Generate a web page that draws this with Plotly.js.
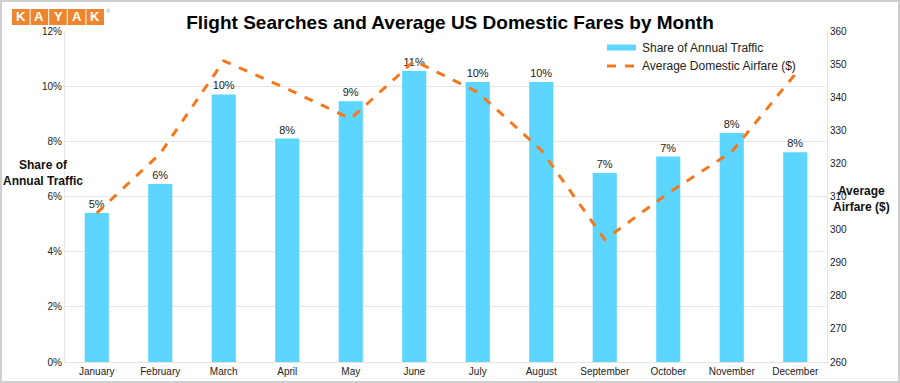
<!DOCTYPE html>
<html>
<head>
<meta charset="utf-8">
<script src="https://cdn.plot.ly/plotly-3.0.1.min.js"></script>
<style>
  html, body { margin: 0; padding: 0; background: #fff; }
  #wrap { position: relative; width: 900px; height: 383px; }
  #chart { width: 900px; height: 383px; }
  #frame { position: absolute; left: 0; top: 0; width: 896px; height: 379px; border: 2px solid #cfcfcf; pointer-events: none; }
</style>
</head>
<body>
<div id="wrap"><div id="chart"></div><div id="frame"></div></div>
<script>
const months = ["January","February","March","April","May","June","July","August","September","October","November","December"];
const trafficShare = [5.4, 6.45, 9.7, 8.1, 9.45, 10.55, 10.15, 10.15, 6.85, 7.45, 8.3, 7.6];
const avgFare = [305, 323, 351, 342.5, 333.5, 351, 341.5, 324, 297, 311, 323.5, 347];
const shareTicks = [0, 2, 4, 6, 8, 10, 12];
const fareTicks = [260, 270, 280, 290, 300, 310, 320, 330, 340, 350, 360];
const logoLetters = ["K","A","Y","A","K"];
const seriesNames = ["Share of Annual Traffic", "Average Domestic Airfare ($)"];

const L = 65, R = 827, T = 31, B = 362;
const px = x => (x - L) / (R - L);
const py = y => (B - y) / (B - T);

const FONT = "Arial, 'Liberation Sans', sans-serif";
const BAR_COLOR = "#5CD6FF", LINE_COLOR = "#F5781E";

const traces = [
  {
    type: "bar", x: months, y: trafficShare, name: seriesNames[0],
    marker: { color: BAR_COLOR },
    texttemplate: "%{y:.0f}%", textposition: "outside", cliponaxis: false,
    textfont: { family: FONT, size: 11, color: "#222" }
  },
  {
    type: "scatter", mode: "lines", x: months, y: avgFare, yaxis: "y2",
    name: seriesNames[1],
    line: { color: LINE_COLOR, width: 3, dash: "dash" }
  }
];

const shapes = [];
const annotations = [];
// Kayak logo
const lx0 = 12, lw = 18.6, ly0 = 9, ly1 = 25;
logoLetters.forEach((ch, i) => {
  const a = lx0 + i * lw, b = a + lw - 1;
  shapes.push({ type: "rect", xref: "paper", yref: "paper",
    x0: px(a), x1: px(b), y0: py(ly1), y1: py(ly0),
    fillcolor: "#EE8630", line: { width: 0 }, layer: "above" });
  annotations.push({ xref: "paper", yref: "paper", x: px((a + b) / 2), y: py((ly0 + ly1) / 2),
    text: "<b>" + ch + "</b>", showarrow: false, xanchor: "center", yanchor: "middle",
    font: { family: FONT, size: 13, color: "#fff" } });
});
annotations.push({ xref: "paper", yref: "paper", x: px(108), y: py(11), text: "®", showarrow: false,
  font: { family: FONT, size: 6, color: "#999" }, xanchor: "center", yanchor: "middle" });
// custom legend
shapes.push({ type: "rect", xref: "paper", yref: "paper", x0: px(607), x1: px(636), y0: py(50.5), y1: py(44.5),
  fillcolor: BAR_COLOR, line: { width: 0 } });
shapes.push({ type: "line", xref: "paper", yref: "paper", x0: px(607), x1: px(636), y0: py(66), y1: py(66),
  line: { color: LINE_COLOR, width: 3, dash: "dash" } });
annotations.push({ xref: "paper", yref: "paper", x: px(640), y: py(48), text: seriesNames[0],
  showarrow: false, xanchor: "left", yanchor: "middle", font: { family: FONT, size: 12, color: "#222" } });
annotations.push({ xref: "paper", yref: "paper", x: px(640), y: py(66), text: seriesNames[1],
  showarrow: false, xanchor: "left", yanchor: "middle", font: { family: FONT, size: 12, color: "#222" } });
// axis titles
annotations.push({ xref: "paper", yref: "paper", x: px(43), y: py(173),
  text: "<b>Share of<br>Annual Traffic</b>", showarrow: false, xanchor: "center", yanchor: "middle",
  font: { family: FONT, size: 12, color: "#111" } });
annotations.push({ xref: "paper", yref: "paper", x: px(861), y: py(199),
  text: "<b>Average<br>Airfare ($)</b>", showarrow: false, xanchor: "center", yanchor: "middle",
  font: { family: FONT, size: 12, color: "#111" } });

const layout = {
  width: 900, height: 383,
  margin: { l: L, r: 900 - R, t: T, b: 383 - B },
  paper_bgcolor: "#fff", plot_bgcolor: "#fff",
  font: { family: FONT, size: 10, color: "#333" },
  title: { text: "<b>Flight Searches and Average US Domestic Fares by Month</b>",
    x: 0.5, xanchor: "center", y: 1 - 22 / 383, yanchor: "middle",
    font: { family: FONT, size: 19, color: "#000" } },
  bargap: 0.62,
  showlegend: false,
  xaxis: { type: "category", showgrid: false, showline: true, linecolor: "#e3e3e3", linewidth: 1,
    ticks: "", tickfont: { family: FONT, size: 10, color: "#222" }, fixedrange: true },
  yaxis: { range: [0, 12], tickvals: shareTicks, ticktext: shareTicks.map(v => v + "%"),
    showgrid: true, gridcolor: "#e6e6e6", gridwidth: 1, zeroline: false,
    showline: true, linecolor: "#e6e6e6",
    tickfont: { family: FONT, size: 10, color: "#222" }, ticks: "" },
  yaxis2: { range: [260, 360], tickvals: fareTicks, overlaying: "y", side: "right",
    showgrid: false, zeroline: false, showline: true, linecolor: "#e6e6e6",
    tickfont: { family: FONT, size: 10, color: "#222" }, ticks: "" },
  shapes: shapes,
  annotations: annotations
};

Plotly.newPlot("chart", traces, layout, { displayModeBar: false, staticPlot: true });
</script>
</body>
</html>
